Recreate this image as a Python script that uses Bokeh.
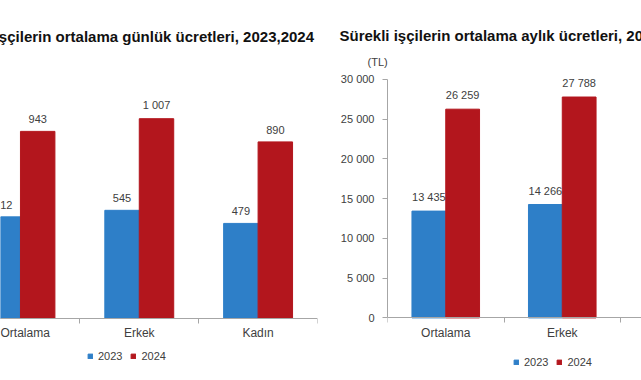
from bokeh.plotting import figure
from bokeh.models import FixedTicker, Title, Legend, LegendItem, ColumnDataSource, Range1d
from bokeh.layouts import row
from bokeh.embed import file_html
from bokeh.resources import INLINE
from bokeh.core.properties import value
from bokeh.transform import dodge

categories = ["Ortalama", "Erkek", "Kadın"]
years = ["2023", "2024"]
daily_2023 = [512, 545, 479]
daily_2024 = [943, 1007, 890]
monthly_2023 = [13435, 14266, 10200]
monthly_2024 = [26259, 27788, 24500]
monthly_ticks = [0, 5000, 10000, 15000, 20000, 25000, 30000]
monthly_tick_labels = ["0", "5 000", "10 000", "15 000", "20 000", "25 000", "30 000"]
daily_title = "Sürekli işçilerin ortalama günlük ücretleri, 2023,2024"
monthly_title = "Sürekli işçilerin ortalama aylık ücretleri, 2023,2024"
unit_label = "(TL)"

BLUE = "#2e7fc8"
RED = "#b3161d"
FONT = "Liberation Sans"
GRAY = "#a6a6a6"
TXT = "#404040"
BAR_W = 0.29
H = 380


def fmt(v):
    return f"{v:,}".replace(",", " ")


def make_chart(v23, v24, x_start, x_end, y_start, y_end, width, mb_left, mb_right, mb_top,
               legend_loc):
    src = ColumnDataSource(dict(
        x=list(range(len(categories))),
        v23=v23, v24=v24,
        l23=[fmt(v) for v in v23], l24=[fmt(v) for v in v24],
    ))
    p = figure(width=width, height=H, output_backend="svg", toolbar_location=None,
               x_range=Range1d(x_start, x_end), y_range=Range1d(y_start, y_end),
               min_border_left=mb_left, min_border_right=mb_right,
               min_border_top=mb_top, min_border_bottom=0, title=None,
               background_fill_color="white", border_fill_color="white")
    p.outline_line_color = None
    p.grid.visible = False
    r1 = p.vbar(x=dodge("x", -BAR_W / 2, range=p.x_range), top="v23", bottom=0,
                width=BAR_W, source=src, color=BLUE)
    r2 = p.vbar(x=dodge("x", BAR_W / 2, range=p.x_range), top="v24", bottom=0,
                width=BAR_W, source=src, color=RED)
    for col, ycol, off in (("l23", "v23", -BAR_W / 2), ("l24", "v24", BAR_W / 2)):
        p.text(x=dodge("x", off, range=p.x_range), y=ycol,
               text=col, source=src, text_align="center", text_baseline="bottom",
               y_offset=-8, text_font=value(FONT), text_font_size="11px", text_color=TXT)
    xa = p.xaxis[0]
    xa.fixed_location = 0
    xa.ticker = FixedTicker(ticks=list(range(len(categories))),
                            minor_ticks=[i - 0.5 for i in range(len(categories) + 1)])
    xa.major_label_overrides = {i: c for i, c in enumerate(categories)}
    xa.major_tick_out = 0
    xa.major_tick_in = 0
    xa.minor_tick_out = 5
    xa.minor_tick_in = 0
    xa.axis_line_color = GRAY
    xa.minor_tick_line_color = GRAY
    xa.major_label_standoff = 3
    xa.major_label_text_font = FONT
    xa.major_label_text_font_size = "12px"
    xa.major_label_text_color = TXT
    legend = Legend(items=[LegendItem(label=years[0], renderers=[r1]),
                           LegendItem(label=years[1], renderers=[r2])],
                    orientation="horizontal", location=legend_loc,
                    glyph_width=6, glyph_height=6, label_standoff=5, spacing=8,
                    padding=0, margin=0, border_line_color=None,
                    background_fill_alpha=0, label_height=12,
                    label_text_font=FONT, label_text_font_size="11px",
                    label_text_color=TXT)
    p.add_layout(legend, "center")
    return p


# left chart: frame top at y=67, baseline at 317.5, 0.19958 px per unit
p1 = make_chart(daily_2023, daily_2024, -0.168, 2.5, -313, 1255, 320, 0, 3, 67, (87, 18))
p1.yaxis.visible = False
p1.add_layout(Title(text=daily_title, align="left", offset=-60, standoff=50,
                    text_font=FONT, text_font_size="15px", text_font_style="bold",
                    text_color="#111111"), "above")

# right chart: frame top at y=67, baseline at 317, 8 px per 1000
p2 = make_chart(monthly_2023, monthly_2024, -0.5, 1.68, -7875, 31250, 321, 67, 0, 67,
                (126, 12))
ya = p2.yaxis[0]
ya.bounds = (0, 30000)
ya.ticker = FixedTicker(ticks=monthly_ticks)
ya.major_label_overrides = {t: l for t, l in zip(monthly_ticks, monthly_tick_labels)}
ya.major_tick_out = 5
ya.major_tick_in = 0
ya.minor_tick_out = 0
ya.minor_tick_in = 0
ya.axis_line_color = GRAY
ya.major_tick_line_color = GRAY
ya.major_label_standoff = 8
ya.major_label_text_font = FONT
ya.major_label_text_font_size = "11px"
ya.major_label_text_color = TXT
p2.add_layout(Title(text=unit_label, align="left", offset=-20, standoff=4,
                    text_font=FONT, text_font_size="11px", text_font_style="normal",
                    text_color=TXT), "above")
p2.add_layout(Title(text=monthly_title, align="left", offset=-48, standoff=15,
                    text_font=FONT, text_font_size="15px", text_font_style="bold",
                    text_color="#111111"), "above")

layout = row(p1, p2, spacing=0)
open("out.html", "w").write(file_html(layout, INLINE))
